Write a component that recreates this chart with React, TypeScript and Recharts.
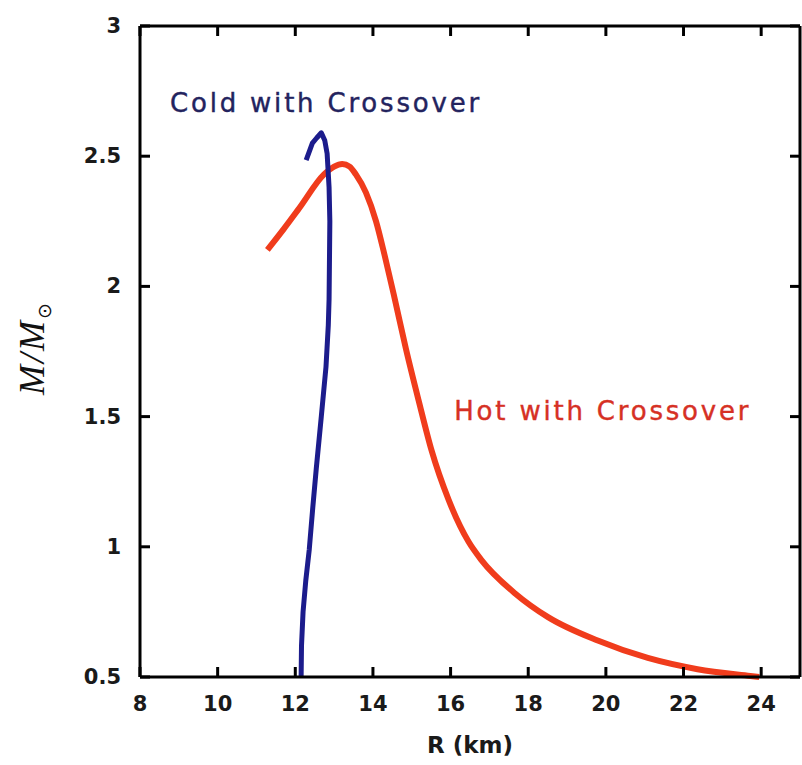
import React from 'react';
import { ComposedChart, Line, Scatter, XAxis, YAxis, ReferenceDot } from 'recharts';

// Cold with crossover (blue), R in km and M/Msun
const coldR = [12.15, 12.16, 12.2, 12.27, 12.36, 12.45, 12.54, 12.67, 12.79, 12.85, 12.87, 12.88, 12.89, 12.87, 12.82, 12.76, 12.67, 12.55, 12.44, 12.28];
const coldM = [0.5, 0.62, 0.75, 0.87, 0.99, 1.15, 1.3, 1.5, 1.69, 1.85, 1.95, 2.1, 2.25, 2.38, 2.51, 2.56, 2.59, 2.57, 2.55, 2.485];

// Hot with crossover (red)
const hotR = [11.28, 11.7, 12.1, 12.74, 13.0, 13.21, 13.4, 13.56, 13.82, 14.08, 14.3, 14.55, 14.85, 15.18, 15.51, 15.95, 16.46, 16.79, 17.67, 18.51, 19.79, 21.08, 22.36, 23.72, 23.95];
const hotM = [2.14, 2.22, 2.3, 2.43, 2.46, 2.47, 2.46, 2.43, 2.36, 2.25, 2.12, 1.96, 1.76, 1.56, 1.37, 1.18, 1.02, 0.95, 0.82, 0.73, 0.64, 0.573, 0.53, 0.504, 0.5];

const xTicks = [8, 10, 12, 14, 16, 18, 20, 22, 24];
const yTicks = [0.5, 1, 1.5, 2, 2.5, 3];
const xDomain = [8, 25];
const yDomain = [0.5, 3];

const coldData = coldR.map((r, i) => ({ r, m: coldM[i] }));
const hotData = hotR.map((r, i) => ({ r, m: hotM[i] }));

// anchor points for the inward tick marks on the four sides of the frame
const bottomMarks = xTicks.map((r) => ({ r, m: yDomain[0] }));
const topMarks = xTicks.map((r) => ({ r, m: yDomain[1] }));
const leftMarks = yTicks.map((m) => ({ r: xDomain[0], m }));
const rightMarks = yTicks.map((m) => ({ r: xDomain[1], m }));

const TICK = 10;
const labelStyle = { fontFamily: 'DejaVu Sans', fontWeight: 'bold' as const, fontSize: 21, fill: '#1a1a1a' };
const frame = { stroke: '#000', strokeWidth: 3 };

const mark = (dx: number, dy: number) => (p: any) => (
  <line x1={p.cx} y1={p.cy} x2={p.cx + dx} y2={p.cy + dy} stroke="#000" strokeWidth={3} />
);

const BottomTick = (props: any) => {
  const { x, y, payload } = props;
  return <text x={x} y={y + 27} textAnchor="middle" dominantBaseline="central" {...labelStyle}>{payload.value}</text>;
};
const LeftTick = (props: any) => {
  const { x, y, payload } = props;
  return <text x={x - 19} y={y} textAnchor="end" dominantBaseline="central" {...labelStyle}>{payload.value}</text>;
};

const XLabel = () => (
  <text x={470} y={745} textAnchor="middle" dominantBaseline="central"
    fontFamily="DejaVu Sans" fontWeight="bold" fontSize={23} fill="#1a1a1a">
    R (km)
  </text>
);

const YLabel = () => (
  <text x={44} y={348} transform="rotate(-90, 44, 348)" textAnchor="middle"
    fontFamily="Liberation Serif, DejaVu Serif" fontStyle="italic" fontSize={36} fill="#111" letterSpacing={2}>
    M/M<tspan fontSize={19} dy={7} fontStyle="normal" fontFamily="DejaVu Sans">⊙</tspan>
  </text>
);

const seriesLabel = (value: string, fill: string) => ({
  value, position: 'center' as const, fill, fontSize: 26, fontFamily: 'DejaVu Sans',
  letterSpacing: 2.8, stroke: fill, strokeWidth: 0.4,
});

export default function App() {
  return (
    <div style={{ position: 'absolute', left: 0, top: 0, background: '#fff' }}>
      <ComposedChart width={802} height={765} margin={{ top: 25, right: 1, bottom: 87, left: 139 }}>
        <XAxis dataKey="r" type="number" domain={xDomain} ticks={xTicks} height={1}
          axisLine={frame} tickLine={false} tickSize={0} tickMargin={0}
          tick={BottomTick} interval={0} label={<XLabel />} />
        <XAxis xAxisId="top" orientation="top" dataKey="r" type="number" domain={xDomain} ticks={xTicks}
          height={1} axisLine={frame} tickLine={false} tick={false} />
        <YAxis dataKey="m" type="number" domain={yDomain} ticks={yTicks} width={1}
          axisLine={frame} tickLine={false} tickSize={0} tickMargin={0}
          tick={LeftTick} interval={0} label={<YLabel />} />
        <YAxis yAxisId="right" orientation="right" dataKey="m" type="number" domain={yDomain} ticks={yTicks}
          width={1} axisLine={frame} tickLine={false} tick={false} />

        <Scatter data={bottomMarks} dataKey="m" shape={mark(0, -TICK)} isAnimationActive={false} legendType="none" />
        <Scatter data={topMarks} dataKey="m" shape={mark(0, TICK)} isAnimationActive={false} legendType="none" />
        <Scatter data={leftMarks} dataKey="m" shape={mark(TICK, 0)} isAnimationActive={false} legendType="none" />
        <Scatter data={rightMarks} dataKey="m" shape={mark(-TICK, 0)} isAnimationActive={false} legendType="none" />

        <Line data={hotData} dataKey="m" type="monotone" stroke="#f03c1c" strokeWidth={6}
          dot={false} activeDot={false} isAnimationActive={false} />
        <Line data={coldData} dataKey="m" type="linear" stroke="#1c1c8c" strokeWidth={5}
          strokeLinejoin="round" dot={false} activeDot={false} isAnimationActive={false} />
        <ReferenceDot x={12.79} y={2.704} r={0} stroke="none" label={seriesLabel('Cold with Crossover', '#23235e')} />
        <ReferenceDot x={19.92} y={1.523} r={0} stroke="none" label={seriesLabel('Hot with Crossover', '#d63024')} />
      </ComposedChart>
    </div>
  );
}
